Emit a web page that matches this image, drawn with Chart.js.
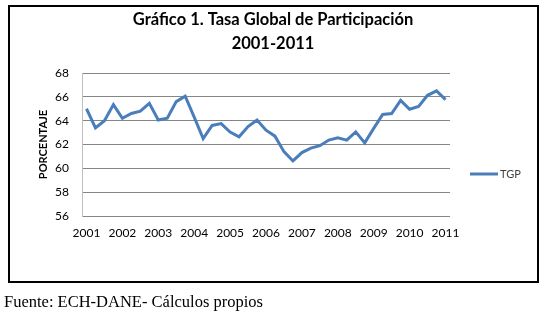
<!DOCTYPE html>
<html>
<head>
<meta charset="utf-8">
<script src="https://cdn.jsdelivr.net/npm/chart.js@4"></script>
<style>
  body { margin: 0; background: #fff; }
  #marco {
    position: absolute; left: 8px; top: 5px; width: 531px; height: 278px;
    box-sizing: border-box; border: 2px solid #000;
  }
  #grafico { position: absolute; left: 0; top: 0; }
  #fuente {
    position: absolute; left: 4px; top: 292px;
    font-family: "Liberation Serif", serif; font-size: 16.5px; color: #000;
  }
</style>
</head>
<body>
<div id="marco"></div>
<canvas id="grafico" width="545" height="315"></canvas>
<div id="fuente">Fuente: ECH-DANE- Cálculos propios</div>
<script>
// datos trimestrales 2001 - 2011
var anos = ['2001', '2002', '2003', '2004', '2005', '2006', '2007', '2008', '2009', '2010', '2011'];
var trimestres = ['I', 'II', 'III', 'IV'];
var tgp = [65.0, 63.4, 64.0, 65.35, 64.2, 64.6, 64.8, 65.45, 64.05, 64.2, 65.6, 66.05,
           64.3, 62.5, 63.6, 63.75, 63.05, 62.65, 63.5, 64.05, 63.2, 62.7, 61.4, 60.62,
           61.32, 61.7, 61.9, 62.37, 62.56, 62.37, 63.06, 62.14, 63.35, 64.52, 64.6, 65.7,
           64.96, 65.2, 66.13, 66.5, 65.77];
var yMin = 56, yMax = 68, yPaso = 2;
var titulo = ['Gráfico 1. Tasa Global de Participación', '2001-2011'];

var categorias = [];
for (var i = 0; i < tgp.length; i++) {
  categorias.push(anos[Math.floor(i / 4)] + '-' + trimestres[i % 4]);
}

var colorLinea = '#4A7EBB';
var fuente = 'Lato, "Open Sans", sans-serif';

// titulo centrado en el marco y leyenda a la derecha (linea + texto)
var tituloYLeyenda = {
  id: 'tituloYLeyenda',
  afterDraw: function (chart) {
    var ctx = chart.ctx;
    var ds = chart.data.datasets[0];
    ctx.save();
    ctx.fillStyle = '#000';
    ctx.font = 'bold 16.5px ' + fuente;
    ctx.textAlign = 'center';
    ctx.textBaseline = 'middle';
    ctx.fillText(titulo[0], 273, 20);
    ctx.fillText(titulo[1], 273, 44);

    ctx.strokeStyle = ds.borderColor;
    ctx.lineWidth = 3;
    ctx.beginPath();
    ctx.moveTo(470, 174);
    ctx.lineTo(498, 174);
    ctx.stroke();
    ctx.fillStyle = '#404040';
    ctx.font = '11px ' + fuente;
    ctx.textAlign = 'left';
    ctx.fillText(ds.label, 500, 174);
    ctx.restore();
  }
};

var ctxGrafico = document.getElementById('grafico').getContext('2d');

var graficoTGP = new Chart(ctxGrafico, {
  type: 'line',
  data: {
    labels: categorias,
    datasets: [{
      label: 'TGP',
      data: tgp,
      borderColor: colorLinea,
      backgroundColor: colorLinea,
      borderWidth: 3,
      pointRadius: 0,
      tension: 0
    }]
  },
  options: {
    responsive: false,
    animation: false,
    layout: {
      padding: { left: 0, right: 95, top: 73, bottom: 69 }
    },
    scales: {
      x: {
        offset: true,
        grid: { display: false },
        border: { display: false },
        afterFit: function (scale) { scale.height = 30; },
        ticks: {
          autoSkip: false,
          maxRotation: 0,
          padding: 2,
          color: '#000',
          font: { family: fuente, size: 12 },
          callback: function (val, idx) {
            return idx % 4 === 0 ? anos[idx / 4] : '';
          }
        }
      },
      y: {
        min: yMin,
        max: yMax,
        afterFit: function (scale) { scale.width = 82; },
        grid: { color: '#868686', drawTicks: false },
        border: { color: '#bfbfbf' },
        ticks: {
          stepSize: yPaso,
          padding: 13,
          color: '#000',
          font: { family: fuente, size: 12 }
        },
        title: {
          display: true,
          text: 'PORCENTAJE',
          color: '#000',
          padding: { top: 37, bottom: 0 },
          font: { family: fuente, size: 11, weight: 'bold' }
        }
      }
    },
    plugins: {
      legend: { display: false },
      tooltip: { enabled: false },
      title: { display: false }
    }
  },
  plugins: [tituloYLeyenda]
});
</script>
</body>
</html>
